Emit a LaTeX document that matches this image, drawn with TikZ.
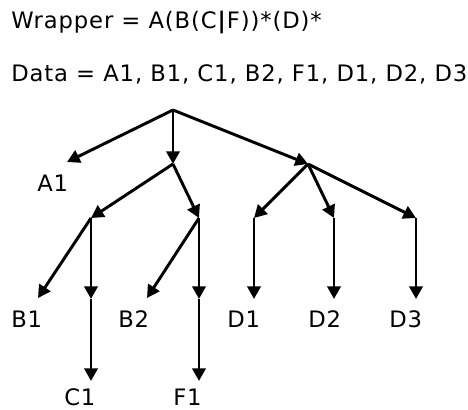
\documentclass[tikz,border=0pt]{standalone}
\usepackage{fontspec}
\setmainfont{DejaVu Sans}[LetterSpace=4]
\usetikzlibrary{arrows.meta}
\begin{document}
\begin{tikzpicture}[x=0.75pt,y=-0.75pt,
  lbl/.style={anchor=base west,inner sep=0pt,font=\fontsize{17pt}{20pt}\selectfont},
  arr/.style={line width=2.2pt,-{Triangle[length=9.5pt,width=10pt]}}]
\useasboundingbox (0,0) rectangle (468,410);
\node[lbl] (wrap) at (11,29) {Wrapper = A(B(C\textbf{|}F))*(D)*};
\node[lbl] (data) at (11,82) {Data = A1, B1, C1, B2, F1, D1, D2, D3};
% tree coordinates
\coordinate (r) at (173,110);
\coordinate (ta) at (67,162);
\coordinate (nb) at (173,164);
\coordinate (nd) at (308,164);
\coordinate (nc1) at (91,218);
\coordinate (nc2) at (199,218);
\coordinate (nd1) at (254,218);
\coordinate (nd2) at (334,218);
\coordinate (nd3) at (416,218);
\coordinate (tb1) at (38,298);
\coordinate (mc) at (91,299);
\coordinate (tc1) at (91,381);
\coordinate (tb2) at (147,298);
\coordinate (mf) at (199,299);
\coordinate (tf1) at (199,381);
\coordinate (td1) at (254,299);
\coordinate (td2) at (334,299);
\coordinate (td3) at (416,299);
% labels
\node[lbl] (A1) at (37,191) {A1};
\node[lbl] (B1) at (11,327) {B1};
\node[lbl] (B2) at (118,327) {B2};
\node[lbl] (D1) at (227,327) {D1};
\node[lbl] (D2) at (308,327) {D2};
\node[lbl] (D3) at (389,327) {D3};
\node[lbl] (C1) at (64,405) {C1};
\node[lbl] (F1) at (173,405) {F1};
% edges
\draw[arr] (r) -- (ta);
\draw[arr] (r) -- (nb);
\draw[arr] (r) -- (nd);
\draw[arr] (nb) -- (nc1);
\draw[arr] (nb) -- (nc2);
\draw[arr] (nd) -- (nd1);
\draw[arr] (nd) -- (nd2);
\draw[arr] (nd) -- (nd3);
\draw[arr] (nc1) -- (tb1);
\draw[arr] (nc1) -- (mc);
\draw[arr] (mc) -- (tc1);
\draw[arr] (nc2) -- (tb2);
\draw[arr] (nc2) -- (mf);
\draw[arr] (mf) -- (tf1);
\draw[arr] (nd1) -- (td1);
\draw[arr] (nd2) -- (td2);
\draw[arr] (nd3) -- (td3);
\end{tikzpicture}
\end{document}
